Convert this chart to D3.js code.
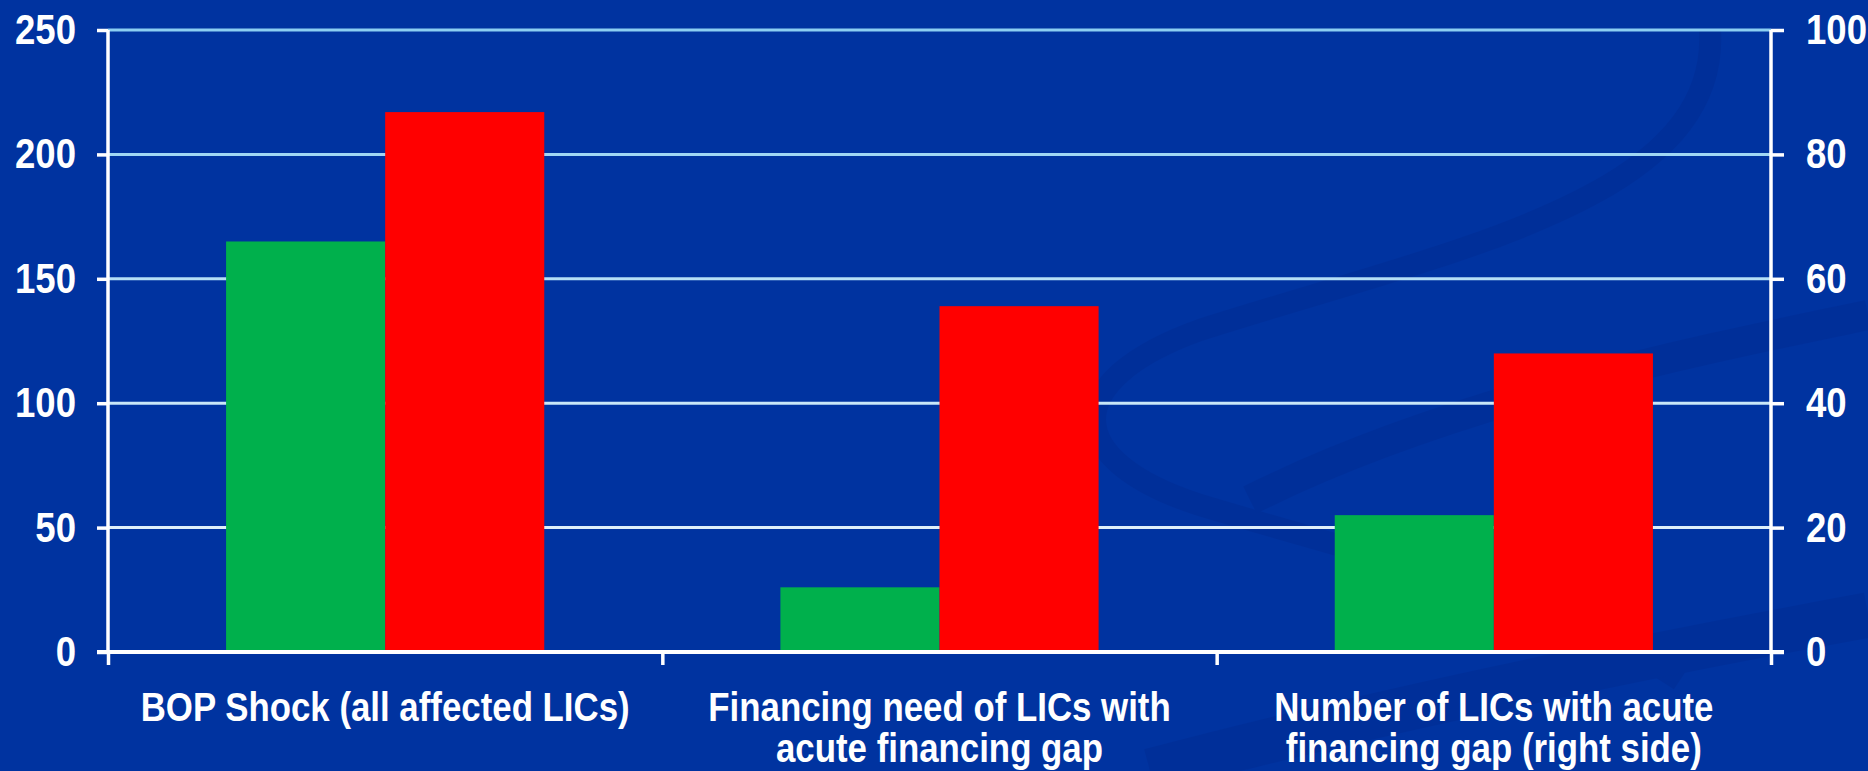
<!DOCTYPE html>
<html>
<head>
<meta charset="utf-8">
<script src="https://cdn.jsdelivr.net/npm/d3@7"></script>
<style>
  html, body { margin: 0; padding: 0; background: #0033a0; }
  svg { display: block; }
  .tick text { font-family: "Liberation Sans", Arial, sans-serif; font-weight: bold; }
</style>
</head>
<body>
<div class="chart"></div>
<script>
// category labels (split in lines like the original)
const categories = [
  ["BOP Shock (all affected LICs)"],
  ["Financing need of LICs with", "acute financing gap"],
  ["Number of LICs with acute", "financing gap (right side)"]
];
const greenValues = [165, 26, 22];
const redValues = [217, 139, 48];
// third group is read on the right hand axis
const onRightAxis = [false, false, true];
const leftTicks = [0, 50, 100, 150, 200, 250];
const rightTicks = [0, 20, 40, 60, 80, 100];

const width = 1868;
const height = 771;
const plotLeft = 108, plotRight = 1771, plotTop = 30, plotBottom = 652;
const squeeze = 0.87; // the slide font is rendered a little condensed

const svg = d3
  .select(".chart")
  .append("svg")
  .attr("width", width)
  .attr("height", height);

svg.append("rect")
  .attr("width", width)
  .attr("height", height)
  .attr("fill", "#0033a0");

// faint background swooshes (slide decoration)
const deco = svg.append("g").attr("fill", "none").attr("stroke", "#00288a").attr("opacity", 0.3);
deco.append("path")
  .attr("d", "M1710,30 C1720,200 1450,250 1200,330 C1060,380 1060,460 1200,505 C1400,565 1560,600 1680,680")
  .attr("stroke-width", 22);
deco.append("path")
  .attr("d", "M1250,500 C1450,400 1700,350 1868,315")
  .attr("stroke-width", 30);
deco.append("path")
  .attr("d", "M1150,771 C1400,705 1650,655 1868,615")
  .attr("stroke-width", 45);

const x0 = d3.scaleBand()
  .domain(d3.range(categories.length))
  .range([plotLeft, plotRight])
  .paddingInner(0.426)
  .paddingOuter(0.213);

const x1 = d3.scaleBand()
  .domain([0, 1])
  .range([0, x0.bandwidth()]);

const yLeft = d3.scaleLinear().domain([0, 250]).range([plotBottom, plotTop]);
const yRight = d3.scaleLinear().domain([0, 100]).range([plotBottom, plotTop]);

// gridlines, light blue at the top fading to white
const gridColor = d3.scaleLinear().domain([0, 250]).range(["#f2f7fc", "#8ccff2"]);
svg.append("g")
  .selectAll("line")
  .data(leftTicks.filter((d) => d > 0))
  .enter()
  .append("line")
  .attr("x1", plotLeft)
  .attr("x2", plotRight)
  .attr("y1", (d) => yLeft(d))
  .attr("y2", (d) => yLeft(d))
  .attr("stroke", (d) => gridColor(d))
  .attr("stroke-width", 3);

// bars
const rows = categories.map((c, i) => ({
  i: i,
  values: [greenValues[i], redValues[i]],
  y: onRightAxis[i] ? yRight : yLeft
}));
const colors = ["#00b04c", "#ff0000"];

const groups = svg.selectAll("g.group")
  .data(rows)
  .enter()
  .append("g")
  .attr("class", "group")
  .attr("transform", (d) => "translate(" + x0(d.i) + ",0)");

groups.selectAll("rect")
  .data((d) => d.values.map((v, k) => ({ v: v, k: k, y: d.y })))
  .enter()
  .append("rect")
  .attr("x", (d) => x1(d.k))
  .attr("width", x1.bandwidth())
  .attr("y", (d) => d.y(d.v))
  .attr("height", (d) => plotBottom - d.y(d.v))
  .attr("fill", (d) => colors[d.k]);

// axes (padding is divided by the squeeze so the scaled text lands right)
const axisLeft = d3.axisLeft(yLeft).tickValues(leftTicks).tickSize(11).tickPadding(32 / squeeze - 11);
const axisRight = d3.axisRight(yRight).tickValues(rightTicks).tickSize(13).tickPadding(35 / squeeze - 13);
const axisBottom = d3.axisBottom(d3.scaleLinear().domain([0, 3]).range([plotLeft, plotRight]))
  .tickValues([0, 1, 2, 3]).tickSize(13).tickFormat("");

function styleAxis(g) {
  g.select(".domain").remove();
  g.selectAll("line").attr("stroke", "#ffffff").attr("stroke-width", 3.5);
  g.selectAll("text")
    .attr("fill", "#ffffff")
    .attr("font-size", 42)
    .attr("transform", "scale(" + squeeze + ",1)");
}

svg.append("g").attr("transform", "translate(" + plotLeft + ",0)").call(axisLeft).call(styleAxis);
svg.append("g").attr("transform", "translate(" + plotRight + ",0)").call(axisRight).call(styleAxis);
svg.append("g").attr("transform", "translate(0," + plotBottom + ")").call(axisBottom).call(styleAxis);

// axis lines
svg.append("line").attr("x1", plotLeft).attr("x2", plotLeft).attr("y1", plotTop).attr("y2", plotBottom)
  .attr("stroke", "#ffffff").attr("stroke-width", 3.5);
svg.append("line").attr("x1", plotRight).attr("x2", plotRight).attr("y1", plotTop).attr("y2", plotBottom)
  .attr("stroke", "#ffffff").attr("stroke-width", 3.5);
svg.append("line").attr("x1", plotLeft - 11).attr("x2", plotRight + 13).attr("y1", plotBottom).attr("y2", plotBottom)
  .attr("stroke", "#ffffff").attr("stroke-width", 4);

// category labels
const labels = svg.append("g")
  .selectAll("g")
  .data(categories)
  .enter()
  .append("g")
  .attr("transform", (d, i) => "translate(" + (x0(i) + x0.bandwidth() / 2) + ",721) scale(0.86,1)");

labels.selectAll("text")
  .data((d) => d)
  .enter()
  .append("text")
  .attr("x", 0)
  .attr("y", (d, j) => j * 41)
  .attr("text-anchor", "middle")
  .attr("font-family", "'Liberation Sans', Arial, sans-serif")
  .attr("font-weight", "bold")
  .attr("font-size", 40.5)
  .attr("fill", "#ffffff")
  .text((d) => d);
</script>
</body>
</html>
